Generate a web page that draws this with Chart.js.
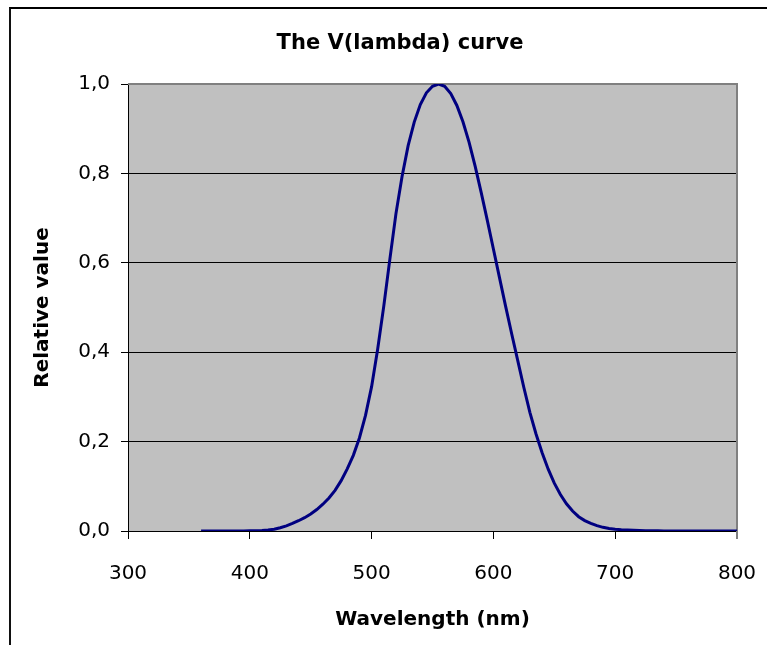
<!DOCTYPE html>
<html>
<head>
<meta charset="utf-8">
<script src="https://cdn.jsdelivr.net/npm/chart.js@4/dist/chart.umd.min.js"></script>
<style>
  html, body { margin: 0; padding: 0; background: #fff; }
  #wrap { position: relative; width: 767px; height: 645px; overflow: hidden; }
  #frame { position: absolute; left: 9px; top: 7px; width: 800px; height: 700px;
           border-top: 2px solid #000; border-left: 2px solid #111; box-sizing: border-box; }
  canvas { position: absolute; left: 0; top: 0; }
</style>
</head>
<body>
<div id="wrap">
  <div id="frame"></div>
  <canvas id="c" width="767" height="645"></canvas>
</div>
<script>
// Data (CIE photopic luminous efficiency)
const wavelengths = [360,365,370,375,380,385,390,395,400,405,410,415,420,425,430,435,440,445,450,455,460,465,470,475,480,485,490,495,500,505,510,515,520,525,530,535,540,545,550,555,560,565,570,575,580,585,590,595,600,605,610,615,620,625,630,635,640,645,650,655,660,665,670,675,680,685,690,695,700,705,710,715,720,725,730,735,740,745,750,755,760,765,770,775,780,785,790,795,800];
const relativeValues = [0.0000039,0.0000064,0.000012,0.0000217,0.000039,0.000064,0.00012,0.000217,0.000396,0.00064,0.00121,0.00218,0.004,0.0073,0.0116,0.01684,0.023,0.0298,0.038,0.048,0.06,0.0739,0.09098,0.1126,0.13902,0.1693,0.20802,0.2586,0.323,0.4073,0.503,0.6082,0.71,0.7932,0.862,0.91485,0.954,0.9803,0.99495,1.0,0.995,0.9786,0.952,0.9154,0.87,0.8163,0.757,0.6949,0.631,0.5668,0.503,0.4412,0.381,0.321,0.265,0.217,0.175,0.1382,0.107,0.0816,0.061,0.04458,0.032,0.0232,0.017,0.01192,0.00821,0.005723,0.004102,0.002929,0.002091,0.001484,0.001047,0.00074,0.00052,0.000361,0.000249,0.000172,0.00012,0.0000848,0.00006,0.0000424,0.00003,0.0000212,0.0000149,0.0000106,0.0000075,0.0000054,0.0000037];
const xTicks = [300,400,500,600,700,800];
const yTicks = [0,0.2,0.4,0.6,0.8,1.0];
const chartTitle = 'The V(lambda) curve';
const xTitle = 'Wavelength (nm)';
const yTitle = 'Relative value';

const points = wavelengths.map((w, i) => ({x: w, y: relativeValues[i]}));
const FONT = "'DejaVu Sans', sans-serif";

const plotBg = {
  id: 'plotBg',
  beforeDraw(chart) {
    const {ctx, chartArea: a} = chart;
    ctx.save();
    ctx.fillStyle = '#c0c0c0';
    ctx.fillRect(a.left, a.top, a.right - a.left, a.bottom - a.top);
    ctx.restore();
  },
  beforeDatasetsDraw(chart) {
    const {ctx, chartArea: a} = chart;
    ctx.save();
    ctx.strokeStyle = '#808080';
    ctx.lineWidth = 2;
    ctx.beginPath();
    ctx.moveTo(a.left, a.top);
    ctx.lineTo(a.right, a.top);
    ctx.lineTo(a.right, a.bottom + 8);
    ctx.stroke();
    ctx.restore();
  },
  afterDraw(chart) {
    const {ctx} = chart;
    ctx.save();
    ctx.fillStyle = '#000';
    ctx.font = "bold 21px " + FONT;
    ctx.textAlign = 'center';
    ctx.textBaseline = 'middle';
    ctx.fillText(chartTitle, 400, 44);
    ctx.restore();
  }
};

new Chart(document.getElementById('c'), {
  type: 'line',
  data: {
    datasets: [{
      data: points,
      borderColor: '#000080',
      borderWidth: 3,
      pointRadius: 0,
      tension: 0,
      fill: false
    }]
  },
  options: {
    responsive: false,
    animation: false,
    events: [],
    layout: { padding: { left: 10, top: 84, right: 30, bottom: 0 } },
    plugins: { legend: { display: false }, tooltip: { enabled: false }, title: { display: false } },
    scales: {
      x: {
        type: 'linear',
        min: 300, max: 800,
        afterBuildTicks(s) { s.ticks = xTicks.map(v => ({value: v})); },
        afterFit(s) { s.height = 114; s.paddingLeft = 0; s.paddingRight = 0; },
        ticks: { color: '#000', font: { family: FONT, size: 20 }, padding: 23, maxRotation: 0 },
        grid: { drawOnChartArea: false, drawTicks: true, tickLength: 8, color: '#000', tickColor: '#000' },
        border: { display: true, color: '#000', width: 1 },
        title: { display: true, text: xTitle, color: '#000', font: { family: FONT, size: 20, weight: 'bold' }, padding: { top: 0, bottom: 13 } }
      },
      y: {
        type: 'linear',
        min: 0, max: 1,
        afterBuildTicks(s) { s.ticks = yTicks.map(v => ({value: v})); },
        afterFit(s) { s.width = 118; s.paddingTop = 0; s.paddingBottom = 0; },
        ticks: { color: '#000', font: { family: FONT, size: 20 }, padding: 11,
                 callback: v => v.toFixed(1).replace('.', ',') },
        grid: { drawOnChartArea: true, drawTicks: true, tickLength: 7,
                color: c => (c.tick && c.tick.value === 1) ? 'rgba(0,0,0,0)' : '#000', tickColor: '#000', lineWidth: 1 },
        border: { display: true, color: '#000', width: 1 },
        title: { display: true, text: yTitle, color: '#000', font: { family: FONT, size: 20, weight: 'bold' }, padding: { top: 21, bottom: 0 } }
      }
    }
  },
  plugins: [plotBg]
});
</script>
</body>
</html>
